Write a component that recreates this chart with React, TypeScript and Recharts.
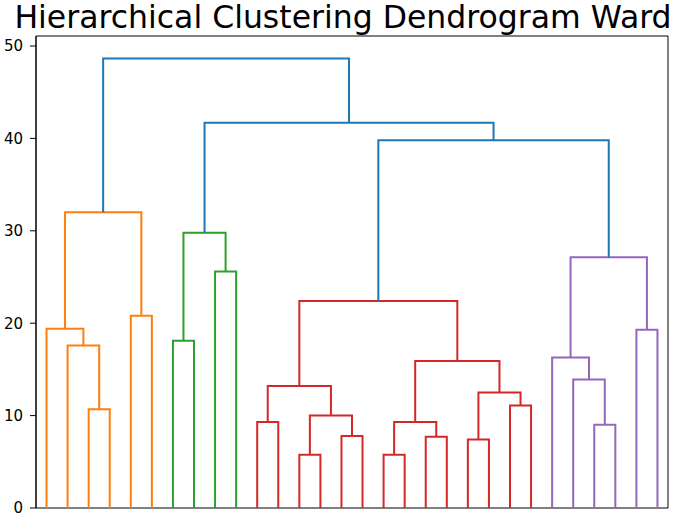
import { LineChart, Line, XAxis, YAxis, ReferenceArea } from 'recharts';

// Leaves sit in display order, 0..29. Each merge joins two node ids
// (leaves are 0..29, merged clusters get 30, 31, ... in this order).
const LEAF_COUNT = 30;

const MERGES: [number, number, number][] = [
  // orange
  [2, 3, 10.7],
  [1, 30, 17.6],
  [0, 31, 19.4],
  [4, 5, 20.8],
  [32, 33, 32.0],
  // green
  [6, 7, 18.1],
  [8, 9, 25.6],
  [35, 36, 29.8],
  // red
  [10, 11, 9.3],
  [12, 13, 5.75],
  [14, 15, 7.8],
  [39, 40, 10.0],
  [38, 41, 13.2],
  [16, 17, 5.75],
  [18, 19, 7.7],
  [43, 44, 9.3],
  [20, 21, 7.4],
  [22, 23, 11.1],
  [46, 47, 12.5],
  [45, 48, 15.9],
  [42, 49, 22.4],
  // purple
  [26, 27, 9.0],
  [25, 51, 13.9],
  [24, 52, 16.3],
  [28, 29, 19.3],
  [53, 54, 27.15],
  // above the cut
  [50, 55, 39.8],
  [37, 56, 41.7],
  [34, 57, 48.65],
];

const MERGE_GROUP = [
  'C1', 'C1', 'C1', 'C1', 'C1',
  'C2', 'C2', 'C2',
  'C3', 'C3', 'C3', 'C3', 'C3', 'C3', 'C3', 'C3', 'C3', 'C3', 'C3', 'C3', 'C3',
  'C4', 'C4', 'C4', 'C4', 'C4',
  'C0', 'C0', 'C0',
];

const Y_TICKS = [0, 10, 20, 30, 40, 50];

const COLORS: Record<string, string> = {
  C0: '#1f77b4',
  C1: '#ff7f0e',
  C2: '#2ca02c',
  C3: '#d62728',
  C4: '#9467bd',
};

// scipy style: leaf i at x = 10*i + 5, axis 0..10*n, y up to max*1.05
const X_MAX = LEAF_COUNT * 10;
const Y_MAX = Math.max(...MERGES.map((m) => m[2])) * 1.05;

function buildLinks() {
  const nodeX: number[] = [];
  const nodeY: number[] = [];
  for (let i = 0; i < LEAF_COUNT; i++) {
    nodeX.push(i * 10 + 5);
    nodeY.push(0);
  }
  return MERGES.map(([a, b, h], i) => {
    const x1 = nodeX[a];
    const x2 = nodeX[b];
    const points = [
      { x: x1, y: nodeY[a] },
      { x: x1, y: h },
      { x: x2, y: h },
      { x: x2, y: nodeY[b] },
    ];
    nodeX.push((x1 + x2) / 2);
    nodeY.push(h);
    return { id: i, color: COLORS[MERGE_GROUP[i]], points };
  });
}

const links = buildLinks();

const FONT = '"DejaVu Sans", sans-serif';

export default function App() {
  return (
    <div
      style={{
        position: 'absolute',
        left: 0,
        top: 0,
        width: 685,
        height: 517,
        background: '#fff',
        fontFamily: FONT,
      }}
    >
      <div
        style={{
          position: 'absolute',
          left: 343,
          top: 1,
          transform: 'translateX(-50%)',
          whiteSpace: 'nowrap',
          fontSize: 31.5,
          lineHeight: '32px',
          color: '#000',
        }}
      >
        Hierarchical Clustering Dendrogram Ward
      </div>
      <LineChart
        width={685}
        height={517}
        margin={{ top: 36, right: 17, bottom: 9, left: 0 }}
      >
        <XAxis
          type="number"
          dataKey="x"
          domain={[0, X_MAX]}
          hide
          allowDataOverflow
        />
        <YAxis
          type="number"
          domain={[0, Y_MAX]}
          ticks={Y_TICKS}
          width={36}
          tickSize={6}
          tickMargin={7}
          allowDataOverflow
          axisLine={{ stroke: '#000', strokeWidth: 1 }}
          tickLine={{ stroke: '#000', strokeWidth: 1 }}
          tick={{ fill: '#000', fontSize: 15, fontFamily: FONT }}
        />
        <ReferenceArea
          x1={0}
          x2={X_MAX}
          y1={0}
          y2={Y_MAX}
          fill="none"
          fillOpacity={0}
          stroke="#000"
          strokeWidth={1}
        />
        {links.map((l) => (
          <Line
            key={l.id}
            data={l.points}
            dataKey="y"
            type="linear"
            stroke={l.color}
            strokeWidth={2}
            dot={false}
            activeDot={false}
            legendType="none"
            isAnimationActive={false}
          />
        ))}
      </LineChart>
    </div>
  );
}
